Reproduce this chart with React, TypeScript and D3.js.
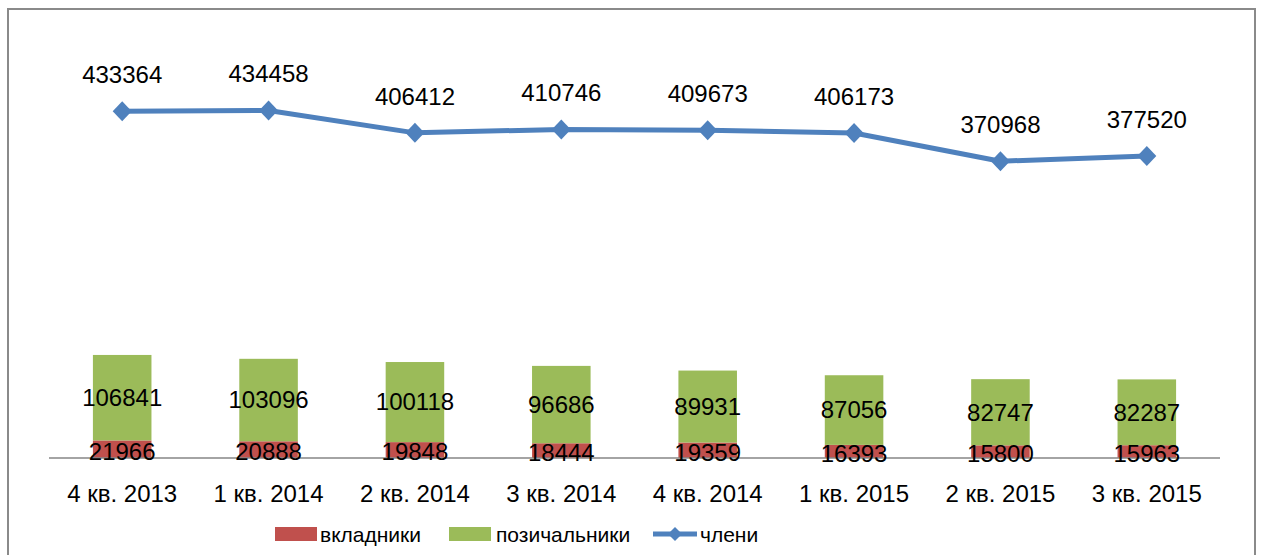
import React from "react";
import * as d3 from "d3";

const categories = ["4 кв. 2013", "1 кв. 2014", "2 кв. 2014", "3 кв. 2014", "4 кв. 2014", "1 кв. 2015", "2 кв. 2015", "3 кв. 2015"];
const depositors = [21966, 20888, 19848, 18444, 19359, 16393, 15800, 15963];
const borrowers = [106841, 103096, 100118, 96686, 89931, 87056, 82747, 82287];
const members = [433364, 434458, 406412, 410746, 409673, 406173, 370968, 377520];

const RED = "#C0504D";
const GREEN = "#9BBB59";
const BLUE = "#4F81BD";
const FONT = "'Liberation Sans', Arial, sans-serif";

const diamondPath = (hw: number, hh: number) => `M0,${-hh}L${hw},0L0,${hh}L${-hw},0Z`;

export default function App() {
  const W = 1261, H = 555;
  const x = d3.scaleBand<string>().domain(categories).range([49, 1220]).paddingInner(0.6).paddingOuter(0.3);
  const y = d3.scaleLinear().domain([0, 500000]).range([458, 58]);
  const bw = x.bandwidth();
  const cx = (c: string) => (x(c) as number) + bw / 2;
  const line = d3.line<number>().x((_, i) => cx(categories[i])).y((d) => y(d));

  return (
    <svg width={W} height={H} style={{ position: "absolute", left: 0, top: 0, background: "#fff" }} fontFamily={FONT}>
      <rect x={8} y={9} width={1247} height={560} fill="#fff" stroke="#8a8a8a" strokeWidth={2} />
      {categories.map((c, i) => {
        const r0 = y(0), r1 = y(depositors[i]), g1 = y(depositors[i] + borrowers[i]);
        return (
          <g key={c}>
            <rect x={x(c)} y={r1} width={bw} height={r0 - r1} fill={RED} />
            <rect x={x(c)} y={g1} width={bw} height={r1 - g1} fill={GREEN} />
          </g>
        );
      })}
      <line x1={49} x2={1220} y1={y(0)} y2={y(0)} stroke="#868686" strokeWidth={1.5} />
      {categories.map((c, i) => {
        const r0 = y(0), r1 = y(depositors[i]), g1 = y(depositors[i] + borrowers[i]);
        return (
          <g key={"l" + c} fontSize={24} textAnchor="middle" fill="#000">
            <text x={cx(c)} y={(r1 + g1) / 2} dy="0.35em">{borrowers[i]}</text>
            <text x={cx(c)} y={(r0 + r1) / 2 + 2} dy="0.35em">{depositors[i]}</text>
            <text x={cx(c)} y={502}>{c}</text>
          </g>
        );
      })}
      <path d={line(members) as string} fill="none" stroke={BLUE} strokeWidth={5} strokeLinejoin="round" />
      {members.map((v, i) => (
        <g key={"m" + i}>
          <path d={diamondPath(9.5, 10)} transform={`translate(${cx(categories[i])},${y(v)})`} fill={BLUE} />
          <text x={cx(categories[i])} y={y(v) - 28} fontSize={24} textAnchor="middle" fill="#000">{v}</text>
        </g>
      ))}
      <g fontSize={21} fill="#000">
        <rect x={275} y={527} width={42} height={14} fill={RED} />
        <text x={320} y={542}>вкладники</text>
        <rect x={449} y={527} width={42} height={14} fill={GREEN} />
        <text x={496} y={542}>позичальники</text>
        <line x1={653} x2={697} y1={534} y2={534} stroke={BLUE} strokeWidth={5} />
        <path d={diamondPath(7, 7)} transform="translate(675,534)" fill={BLUE} />
        <text x={700} y={542}>члени</text>
      </g>
    </svg>
  );
}
